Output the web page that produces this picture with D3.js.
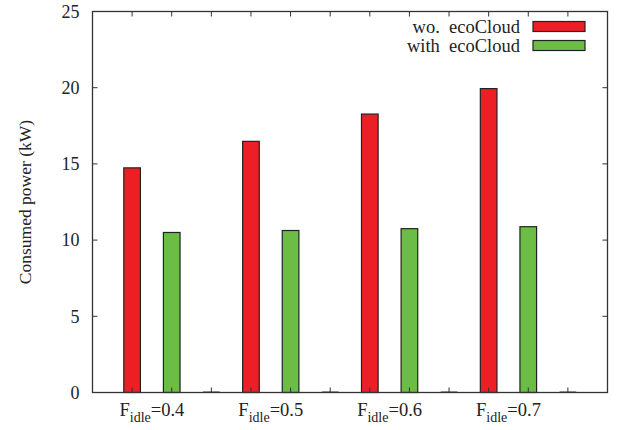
<!DOCTYPE html>
<html><head><meta charset="utf-8">
<script src="https://cdn.jsdelivr.net/npm/d3@7"></script>
<style>body{margin:0;background:#fff}svg{display:block}</style>
</head><body><svg id="c" width="622" height="430"></svg>
<script>
const categories = ["0.4", "0.5", "0.6", "0.7"];
const woEcoCloud = [14.74, 16.48, 18.27, 19.94];
const withEcoCloud = [10.50, 10.63, 10.75, 10.88];
const emptySlot = [0, 0, 0, 0];
const seriesNames = ["wo.  ecoCloud", "with  ecoCloud"];
const yTicks = [0, 5, 10, 15, 20, 25];

const svg = d3.select("#c");
const FONT = "Liberation Serif";
const L = 92.5, R = 607.5, T = 11.5, B = 392.5;
const x = d3.scaleLinear().domain([-1, 12]).range([L, R]);
const y = d3.scaleLinear().domain([0, 25]).range([B, T]);
const bw = x(0.42) - x(0);
const colors = ["#ed1f26", "#6bbd45"];

// bars
const series = [woEcoCloud, withEcoCloud, emptySlot];
series.forEach((vals, s) => {
  svg.append("g").selectAll("rect").data(vals).join("rect")
    .attr("x", (d, i) => x(i * 3 + s) - bw / 2)
    .attr("y", d => y(d) - (s < 2 ? 0 : 1))
    .attr("width", bw)
    .attr("height", d => y(0) - y(d) + (s < 2 ? 0 : 1))
    .attr("fill", s < 2 ? colors[s] : "#333")
    .attr("stroke", "#222")
    .attr("stroke-width", s < 2 ? 1.2 : 0);
});

// axes
const tickLen = 5;
const xt = d3.range(0, 12);
const gAx = svg.append("g").attr("stroke", "#333").attr("stroke-width", 1);
gAx.selectAll(".xb").data(xt).join("line")
  .attr("x1", d => x(d)).attr("x2", d => x(d)).attr("y1", B).attr("y2", B - tickLen);
gAx.selectAll(".xt").data(xt).join("line")
  .attr("x1", d => x(d)).attr("x2", d => x(d)).attr("y1", T).attr("y2", T + tickLen);
gAx.selectAll(".yl").data(yTicks).join("line")
  .attr("x1", L).attr("x2", L + tickLen).attr("y1", d => y(d)).attr("y2", d => y(d));
gAx.selectAll(".yr").data(yTicks).join("line")
  .attr("x1", R).attr("x2", R - tickLen).attr("y1", d => y(d)).attr("y2", d => y(d));
svg.append("rect").attr("x", L).attr("y", T).attr("width", R - L).attr("height", B - T)
  .attr("fill", "none").attr("stroke", "#333").attr("stroke-width", 1.3);

// y tick labels
svg.append("g").selectAll("text").data(yTicks).join("text")
  .attr("x", L - 13).attr("y", d => y(d)).attr("dy", "0.35em")
  .style("font-family", FONT).attr("fill", "#222")
  .attr("text-anchor", "end").attr("font-size", 18).text(d => d);

// x labels
const xl = svg.append("g").selectAll("text").data(categories).join("text")
  .attr("x", (d, i) => x(i * 3 + 0.5)).attr("y", 416)
  .style("font-family", FONT).attr("fill", "#222")
  .attr("text-anchor", "middle").attr("font-size", 18.5);
xl.append("tspan").text("F");
xl.append("tspan").attr("font-size", 14).attr("dy", 5.5).text("idle");
xl.append("tspan").attr("dy", -5.5).text(d => "=" + d);

// y title
svg.append("text").attr("transform", "translate(31," + ((T + B) / 2) + ") rotate(-90)")
  .style("font-family", FONT).attr("fill", "#222")
  .attr("text-anchor", "middle").attr("font-size", 17.5).text("Consumed power (kW)");

// legend
const lg = svg.append("g");
seriesNames.forEach((n, i) => {
  const cy = 26.5 + i * 19;
  lg.append("text").attr("x", 520).attr("y", cy).attr("dy", "0.35em")
    .style("font-family", FONT).attr("fill", "#222")
    .attr("text-anchor", "end").attr("font-size", 18.5).style("white-space", "pre").text(n);
  lg.append("rect").attr("x", 533).attr("y", cy - 5).attr("width", 52).attr("height", 10)
    .attr("fill", colors[i]).attr("stroke", "#222").attr("stroke-width", 1.2);
});
</script></body></html>
